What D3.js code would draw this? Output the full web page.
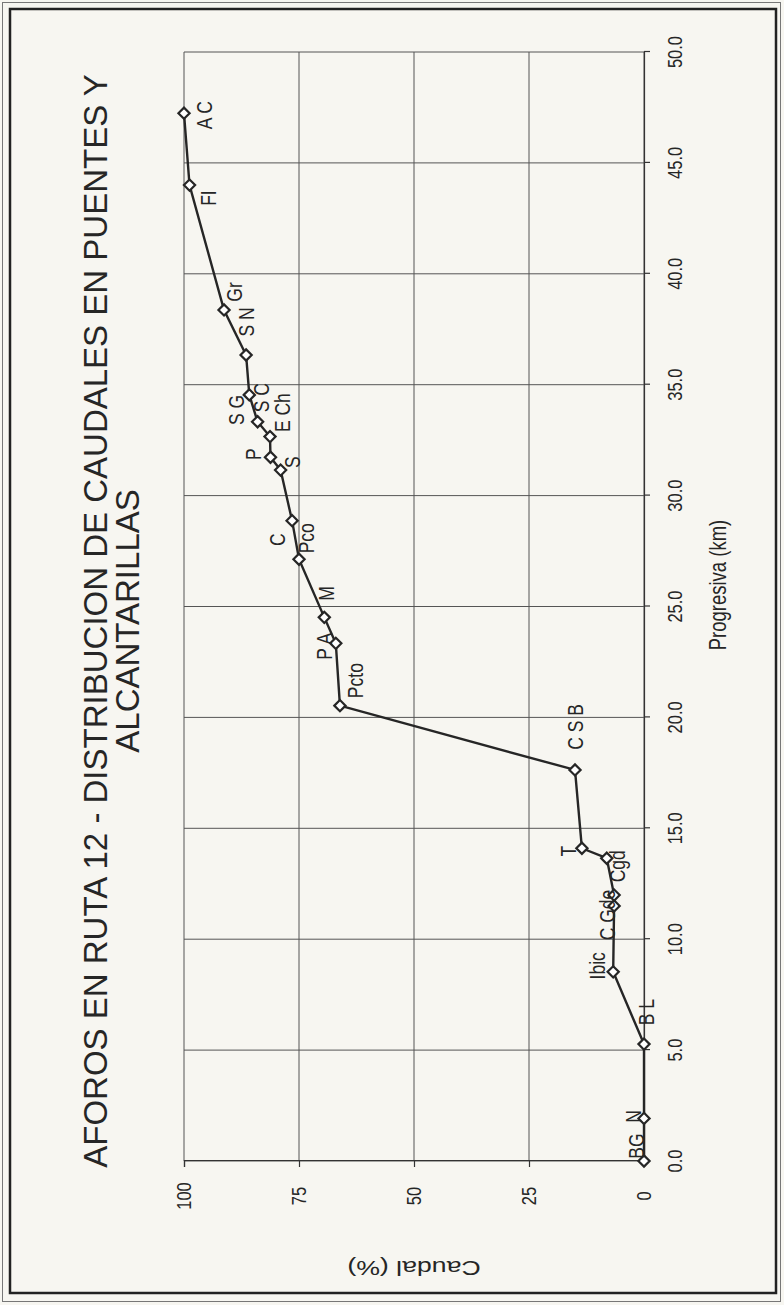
<!DOCTYPE html>
<html><head><meta charset="utf-8">
<script src="https://cdn.jsdelivr.net/npm/d3@7"></script>
<style>body{margin:0;background:#f7f6f1} svg{display:block}</style>
</head><body>
<svg id="c" width="784" height="1305"></svg>
<script>
// ---- data ----
const labels     = ["BG","N","B L","Ibic","","C Gde","Cgd","T","C S B","Pcto","P A","M","Pco","C","S","P","E Ch","S C","S G","S N","Gr","FI","A C"];
const progresiva = [0, 1.92, 5.27, 8.53, 11.50, 11.99, 13.65, 14.10, 17.63, 20.53, 23.34, 24.51, 27.13, 28.87, 31.15, 31.73, 32.66, 33.33, 34.54, 36.34, 38.37, 44.0, 47.24];
const caudal     = [0, 0, 0, 6.7, 6.5, 6.5, 8.1, 13.5, 15.0, 66.1, 67.0, 69.5, 75.0, 76.5, 79.0, 81.2, 81.3, 84.0, 85.8, 86.5, 91.3, 98.8, 100];
const xTicks = [0,5,10,15,20,25,30,35,40,45,50];
const yTicks = [0,25,50,75,100];
const title1 = "AFOROS EN RUTA 12 - DISTRIBUCION DE CAUDALES EN PUENTES Y";
const title2 = "ALCANTARILLAS";
const xTitle = "Progresiva (km)";
const yTitle = "Caudal (%)";

// ---- layout (label nudges in chart px, landscape frame) ----
const labelNudge = [[15,-8],[2,-11],[32,2],[6,-16],[0,0],[-20,-7],[-8,10],[-3,-14],[43,0],[25,15],[-3,-12],[24,2],[21,7],[-19,-15],[8,12],[3,-17],[24,12],[24,4],[-15,-13],[33,0],[18,10],[-13,19],[-2,20]];

const W = 1305, H = 784;          // landscape chart, rotated onto the page
const FONT = "'Liberation Sans', Arial, sans-serif";
const K = 1.27;                    // scan stretch of glyphs
const ink = "#262626";

const svg = d3.select("#c");
svg.append("rect").attr("width",784).attr("height",1305).attr("fill","#f7f6f1");
svg.append("rect").attr("x",2.5).attr("y",2.5).attr("width",778).attr("height",1299)
   .attr("fill","none").attr("stroke","#777").attr("stroke-width",1);
svg.append("rect").attr("x",10).attr("y",9).attr("width",766).attr("height",1284)
   .attr("fill","none").attr("stroke","#222").attr("stroke-width",2.5);

const g = svg.append("g").attr("transform",`translate(0,${W}) rotate(-90)`);

const x = d3.scaleLinear().domain([0,50]).range([144,1253]);
const y = d3.scaleLinear().domain([0,100]).range([644,184]);

function txt(sel, X, Y, s, str, opts={}){
  const t = sel.append("g").attr("transform",`translate(${X},${Y}) scale(1,${opts.k||K}) rotate(${opts.rot||0})`)
    .append("text").attr("text-anchor","middle").attr("dy","0.35em")
    .attr("font-family",FONT).attr("font-size",s).attr("fill",ink).text(str);
  return t;
}

// grid
g.append("g").selectAll("line").data(xTicks).join("line")
  .attr("x1",d=>x(d)).attr("x2",d=>x(d)).attr("y1",y(100)).attr("y2",y(0))
  .attr("stroke","#555").attr("stroke-width",1);
g.append("g").selectAll("line").data(yTicks).join("line")
  .attr("x1",x(0)).attr("x2",x(50)).attr("y1",d=>y(d)).attr("y2",d=>y(d))
  .attr("stroke","#555").attr("stroke-width",1);

// axes
const xa = g.append("g").attr("transform",`translate(0,${y(0)})`)
  .call(d3.axisBottom(x).tickValues(xTicks).tickSize(6).tickFormat(""));
const ya = g.append("g").attr("transform",`translate(${x(0)},0)`)
  .call(d3.axisLeft(y).tickValues(yTicks).tickSize(6).tickFormat(""));
[xa,ya].forEach(a=>{a.selectAll("path,line").attr("stroke","#333").attr("stroke-width",1.2);});

xTicks.forEach(v=>txt(g, x(v), y(0)+31, 16.5, d3.format(".1f")(v)));
yTicks.forEach(v=>txt(g, x(0)-35, y(v), 16.5, String(v)));

// titles
txt(g, 684, 95, 33, title1, {k:1});
txt(g, 684, 127, 33, title2, {k:1});
txt(g, 720, 718, 18.5, xTitle);
txt(g, 37, (y(0)+y(100))/2, 21, yTitle, {rot:-90});

// series
const pts = progresiva.map((p,i)=>({p, c:caudal[i], l:labels[i], n:labelNudge[i]}));
g.append("path").datum(pts)
  .attr("d", d3.line().x(d=>x(d.p)).y(d=>y(d.c)))
  .attr("fill","none").attr("stroke",ink).attr("stroke-width",2.4);
g.append("g").selectAll("path").data(pts).join("path")
  .attr("transform",d=>`translate(${x(d.p)},${y(d.c)})`)
  .attr("d", d3.symbol(d3.symbolDiamond2, 80)())
  .attr("fill","#fff").attr("stroke",ink).attr("stroke-width",2.2);

pts.forEach(d=>{ if(d.l) txt(g, x(d.p)+d.n[0], y(d.c)+d.n[1], 17.5, d.l); });
</script>
</body></html>
